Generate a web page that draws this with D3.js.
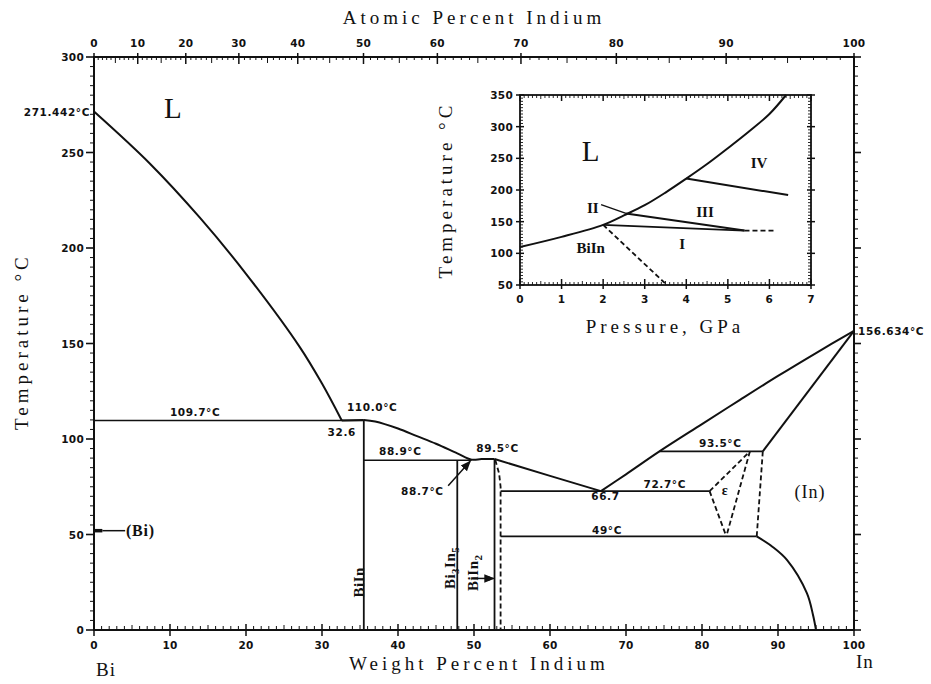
<!DOCTYPE html>
<html><head><meta charset="utf-8">
<script src="https://cdn.jsdelivr.net/npm/d3@7"></script>
<style>
body{margin:0;background:#fff;}
svg{display:block;}
.tick{font-family:"DejaVu Sans",Arial,sans-serif;font-weight:bold;font-size:10.5px;letter-spacing:0.3px;fill:#111;}
.title{font-family:"Liberation Serif","DejaVu Serif",serif;font-size:19px;letter-spacing:4px;fill:#111;}
.lab{font-family:"DejaVu Sans",Arial,sans-serif;font-weight:bold;font-size:10.5px;letter-spacing:0.6px;fill:#111;}
.ser{font-family:"Liberation Serif","DejaVu Serif",serif;fill:#111;}
</style></head>
<body>
<svg id="c" width="931" height="684"></svg>
<script>
// ---------- DATA (wt.% In, °C) ----------
const liquidusBi   = [[0,271.442],[7.4,244],[13.9,216],[20,186.5],[27.1,148],[30,129],[32.6,109.7]];
const plateauBiIn  = [[32.6,109.7],[35.5,110]];
const liquidusBiIn = [[35.5,110],[37,109.2],[40,105.5],[42.5,101.5],[45,97.5],[47.8,92.5],[49.7,89.2],[51,89.5],[52.7,89.5]];
const liquidusBiIn2= [[52.7,89.5],[60,80.7],[66.7,72.7]];
const liquidusIn   = [[66.7,72.7],[70,81.5],[74.4,93.5],[80,107.8],[85,120.5],[90,133],[95,145],[100,156.634]];
const solidusIn    = [[100,156.634],[88,93.5]];
const solvusIn     = [[87.2,49],[89.3,43.5],[91.2,36.6],[93.8,19.3],[94.6,8],[95,0]];
const isotherms    = [[109.7,0,35.5],[88.9,35.5,49.7],[72.7,53.5,81],[49,53.5,87.2],[93.5,74.4,88]];
const compounds    = [[35.5,110],[47.8,88.9],[52.7,89.5]];
const dashedLines  = [
  [[52.8,89],[53.3,82],[53.5,75],[53.5,0]],
  [[81,72.7],[86.3,93.5]],
  [[86.3,93.5],[83.2,49]],
  [[81,72.7],[83.2,49]],
  [[88,93.5],[87.2,49]]
];
const labelsMain = [
  ["109.7°C",13.3,112],["110.0°C",36.6,114.5],["32.6",32.6,101.5],["88.9°C",40.3,91.6],
  ["89.5°C",53.1,93],["88.7°C",43.2,70.5],["66.7",67.3,68],["72.7°C",75.1,74.5],
  ["49°C",67.5,50.3],["93.5°C",82.4,95.8]
];
// [main, sub1, mid, sub2], wt position of baseline, temperature of centre
const compoundLabels = [[["Bi","","In",""],35.55,25],[["Bi","3","In","5"],47.5,32.5],[["Bi","","In","2"],50.5,30]];
const tempTicks = [0,50,100,150,200,250,300];
const wtTicks = [0,10,20,30,40,50,60,70,80,90,100];
const atTicks = [0,10,20,30,40,50,60,70,80,90,100];
// inset (GPa, °C)
const insetMelt  = [[0,110],[1,126],[2,145],[2.5,160],[3,176],[3.5,196],[4,218],[4.5,241],[5,266],[5.5,292],[6,320],[6.4,350]];
const insetIIIIV = [[4,218],[6.45,192]];
const insetIII   = [[2.55,163],[5.4,136]];
const insetIII_II= [[1.95,177],[2.55,163]];
const insetII_I  = [[2,145],[5.4,136]];
const insetDash  = [[[5.4,136],[6.1,136]],[[2,145],[3.5,52]]];
const insetLabels= [["II",1.75,172],["III",4.45,165],["IV",5.75,242],["I",3.9,115],["BiIn",1.7,108]];
const pTicks = [0,1,2,3,4,5,6,7];
const itTicks = [50,100,150,200,250,300,350];

// ---------- SCALES ----------
const svg = d3.select("#c");
const x = d3.scaleLinear().domain([0,100]).range([94,854]);
const y = d3.scaleLinear().domain([0,300]).range([630,57]);
const atToWt = a => a*114.82/(a*114.82+(100-a)*208.98)*100;
const line = d3.line().x(d=>x(d[0])).y(d=>y(d[1]));
const curveN = d3.line().x(d=>x(d[0])).y(d=>y(d[1])).curve(d3.curveCatmullRom);

// ---------- MAIN AXES ----------
const g = svg.append("g");
g.append("rect").attr("x",x(0)).attr("y",y(300)).attr("width",x(100)-x(0)).attr("height",y(0)-y(300))
 .attr("fill","none").attr("stroke","#111").attr("stroke-width",2);
for(let t=0;t<=300;t+=5){
  const maj = t%50===0;
  g.append("line").attr("x1",x(0)-(maj?8:4)).attr("x2",x(0)).attr("y1",y(t)).attr("y2",y(t)).attr("stroke","#111").attr("stroke-width",maj?1.6:1);
  g.append("line").attr("x1",x(100)).attr("x2",x(100)+(maj?7:4)).attr("y1",y(t)).attr("y2",y(t)).attr("stroke","#111").attr("stroke-width",maj?1.6:1);
}
tempTicks.forEach(t=>g.append("text").attr("class","tick").attr("x",x(0)-10).attr("y",y(t)+4).attr("text-anchor","end").text(t));
for(let w=0;w<=100;w+=1){
  const maj=w%10===0, mid=w%5===0;
  g.append("line").attr("x1",x(w)).attr("x2",x(w)).attr("y1",y(0)-(maj?6:mid?5:4)).attr("y2",y(0)+(maj?6:0)).attr("stroke","#111").attr("stroke-width",maj?1.5:1);
}
wtTicks.forEach(w=>g.append("text").attr("class","tick").attr("x",x(w)).attr("y",y(0)+19).attr("text-anchor","middle").text(w));
for(let a=0;a<=100;a+=1){
  const maj=a%10===0, mid=a%5===0;
  g.append("line").attr("x1",x(atToWt(a))).attr("x2",x(atToWt(a))).attr("y1",y(300)-(maj?4:0)).attr("y2",y(300)+(maj?7:mid?6:3)).attr("stroke","#111").attr("stroke-width",maj?1.5:1);
}
atTicks.forEach(a=>g.append("text").attr("class","tick").attr("x",x(atToWt(a))).attr("y",y(300)-10).attr("text-anchor","middle").text(a));

// titles
svg.append("text").attr("class","title").attr("x",474).attr("y",24).attr("text-anchor","middle").text("Atomic Percent Indium");
svg.append("text").attr("class","title").attr("x",479).attr("y",670).attr("text-anchor","middle").text("Weight Percent Indium");
svg.append("text").attr("class","title").attr("letter-spacing","3.2px").attr("transform",`translate(28,${y(151)}) rotate(-90)`).attr("text-anchor","middle").text("Temperature °C");
svg.append("text").attr("class","ser").attr("x",x(0)+2).attr("y",676).attr("font-size",19).attr("letter-spacing","1px").text("Bi");
svg.append("text").attr("class","ser").attr("x",x(100)+2).attr("y",668).attr("font-size",19).attr("letter-spacing","1px").text("In");
svg.append("text").attr("class","ser").attr("x",x(9.2)).attr("y",y(268)).attr("font-size",29).text("L");
svg.append("text").attr("class","ser").attr("x",x(94.2)).attr("y",y(69)).attr("font-size",18).attr("letter-spacing","1px").attr("text-anchor","middle").text("(In)");
svg.append("text").attr("class","ser").attr("x",x(83)).attr("y",y(70.5)).attr("font-size",14).attr("font-weight","bold").attr("text-anchor","middle").text("ε");
svg.append("text").attr("class","lab").attr("x",x(0)-4).attr("y",y(271.442)+4).attr("text-anchor","end").text("271.442°C");
svg.append("text").attr("class","lab").attr("x",x(100)+4).attr("y",y(156.634)+4).text("156.634°C");

// ---------- PHASE LINES ----------
const ph = svg.append("g").attr("fill","none").attr("stroke","#111");
ph.append("path").attr("d",curveN(liquidusBi)).attr("stroke-width",2);
ph.append("path").attr("d",line(plateauBiIn)).attr("stroke-width",2);
ph.append("path").attr("d",curveN(liquidusBiIn)).attr("stroke-width",2);
ph.append("path").attr("d",line(liquidusBiIn2)).attr("stroke-width",2);
ph.append("path").attr("d",curveN(liquidusIn)).attr("stroke-width",2);
ph.append("path").attr("d",line(solidusIn)).attr("stroke-width",2);
ph.append("path").attr("d",curveN(solvusIn)).attr("stroke-width",2);
isotherms.forEach(([t,a,b])=>ph.append("line").attr("x1",x(a)).attr("x2",x(b)).attr("y1",y(t)).attr("y2",y(t)).attr("stroke-width",1.6));
compounds.forEach(([w,t])=>ph.append("line").attr("x1",x(w)).attr("x2",x(w)).attr("y1",y(0)).attr("y2",y(t)).attr("stroke-width",1.8));
dashedLines.forEach(d=>ph.append("path").attr("d",line(d)).attr("stroke-width",1.8).attr("stroke-dasharray","5,3"));
ph.append("line").attr("x1",x(0)).attr("x2",x(1.1)).attr("y1",y(52)).attr("y2",y(52)).attr("stroke-width",3.5);
ph.append("line").attr("x1",x(1.1)).attr("x2",x(4.1)).attr("y1",y(52)).attr("y2",y(52)).attr("stroke-width",1.5);
svg.append("text").attr("class","ser").attr("font-weight","bold").attr("font-size",16).attr("letter-spacing","0.8px").attr("x",x(4.2)).attr("y",y(52)+5).text("(Bi)");
const defs = svg.append("defs");
defs.append("marker").attr("id","ah").attr("viewBox","0 0 10 10").attr("refX",9).attr("refY",5).attr("markerWidth",7).attr("markerHeight",7).attr("orient","auto")
  .append("path").attr("d","M0,1L10,5L0,9z").attr("fill","#111");
ph.append("line").attr("x1",x(46.6)).attr("y1",y(75.5)).attr("x2",x(49.5)).attr("y2",y(88.3)).attr("stroke-width",1.5).attr("marker-end","url(#ah)");
ph.append("line").attr("x1",x(49.9)).attr("y1",y(27)).attr("x2",x(52.6)).attr("y2",y(27)).attr("stroke-width",1.5).attr("marker-end","url(#ah)");
svg.append("circle").attr("cx",x(51.9)).attr("cy",y(27)).attr("r",2.2).attr("fill","#111");

labelsMain.forEach(([t,w,T])=>svg.append("text").attr("class","lab").attr("x",x(w)).attr("y",y(T)).attr("text-anchor","middle").text(t));
compoundLabels.forEach(([parts,w,T])=>{
  const tx = svg.append("text").attr("class","ser").attr("font-weight","bold").attr("font-size",15).attr("letter-spacing","0.5px")
    .attr("transform",`translate(${x(w)},${y(T)}) rotate(-90)`).attr("text-anchor","middle");
  tx.append("tspan").text(parts[0]);
  if(parts[1]) tx.append("tspan").attr("font-size",11).attr("dy",4).text(parts[1]);
  tx.append("tspan").attr("dy",parts[1]?-4:0).text(parts[2]);
  if(parts[3]) tx.append("tspan").attr("font-size",11).attr("dy",4).text(parts[3]);
});

// ---------- INSET ----------
const px = d3.scaleLinear().domain([0,7]).range([520,811]);
const py = d3.scaleLinear().domain([50,350]).range([285,95]);
const il = d3.line().x(d=>px(d[0])).y(d=>py(d[1]));
const ilc = d3.line().x(d=>px(d[0])).y(d=>py(d[1])).curve(d3.curveCatmullRom);
const ig = svg.append("g");
ig.append("rect").attr("x",px(0)).attr("y",py(350)).attr("width",px(7)-px(0)).attr("height",py(50)-py(350)).attr("fill","#fff").attr("stroke","#111").attr("stroke-width",1.8);
for(let p=0;p<=70;p+=1){
  const maj=p%10===0, mid=p%5===0;
  const v=p/10;
  ig.append("line").attr("x1",px(v)).attr("x2",px(v)).attr("y1",py(50)+(maj?4:0)).attr("y2",py(50)-(maj?6:mid?4:3)).attr("stroke","#111").attr("stroke-width",maj?1.5:0.9);
  ig.append("line").attr("x1",px(v)).attr("x2",px(v)).attr("y1",py(350)).attr("y2",py(350)+(maj?6:mid?4:3)).attr("stroke","#111").attr("stroke-width",maj?1.5:0.9);
}
for(let t=50;t<=350;t+=5){
  const maj=t%50===0;
  ig.append("line").attr("x1",px(0)-(maj?4:0)).attr("x2",px(0)+(maj?4:3)).attr("y1",py(t)).attr("y2",py(t)).attr("stroke","#111").attr("stroke-width",maj?1.5:0.9);
  ig.append("line").attr("x1",px(7)-(maj?4:3)).attr("x2",px(7)+(maj?4:0)).attr("y1",py(t)).attr("y2",py(t)).attr("stroke","#111").attr("stroke-width",maj?1.5:0.9);
}
pTicks.forEach(p=>ig.append("text").attr("class","tick").attr("x",px(p)).attr("y",py(50)+18).attr("text-anchor","middle").text(p));
itTicks.forEach(t=>ig.append("text").attr("class","tick").attr("x",px(0)-7).attr("y",py(t)+4).attr("text-anchor","end").text(t));
ig.append("text").attr("class","title").attr("font-size",18).attr("letter-spacing","3.5px").attr("x",665).attr("y",333).attr("text-anchor","middle").text("Pressure, GPa");
ig.append("text").attr("class","title").attr("font-size",17).attr("letter-spacing","3px").attr("transform",`translate(452,${py(200)}) rotate(-90)`).attr("text-anchor","middle").text("Temperature °C");
const ip = ig.append("g").attr("fill","none").attr("stroke","#111");
ip.append("path").attr("d",ilc(insetMelt)).attr("stroke-width",2);
ip.append("path").attr("d",il(insetIIIIV)).attr("stroke-width",2);
ip.append("path").attr("d",il(insetIII)).attr("stroke-width",2);
ip.append("path").attr("d",il(insetIII_II)).attr("stroke-width",1.4);
ip.append("path").attr("d",il(insetII_I)).attr("stroke-width",1.8);
insetDash.forEach(d=>ip.append("path").attr("d",il(d)).attr("stroke-width",1.8).attr("stroke-dasharray","5,3"));
ig.append("text").attr("class","ser").attr("font-size",29).attr("x",px(1.7)).attr("y",py(246)).attr("text-anchor","middle").text("L");
insetLabels.forEach(([t,p,T])=>ig.append("text").attr("class","ser").attr("font-weight","bold").attr("font-size",15)
  .attr("x",px(p)).attr("y",py(T)+5).attr("text-anchor","middle").text(t));
</script>
</body></html>
